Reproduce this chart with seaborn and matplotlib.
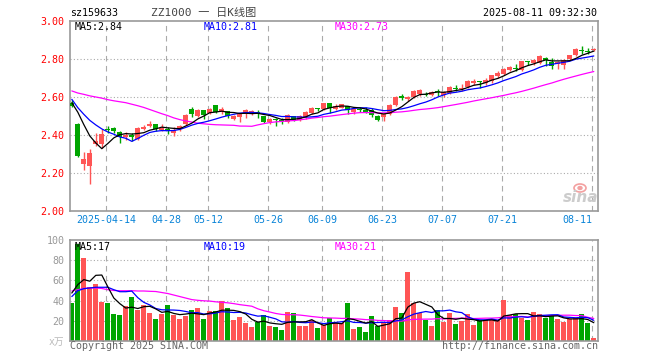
import numpy as np
import pandas as pd
import seaborn as sns
import matplotlib.pyplot as plt
from matplotlib.patches import Ellipse

# daily K data for sz159633, 2025-04-03 .. 2025-08-11
opens = [2.570, 2.460, 2.249, 2.237, 2.351, 2.351, 2.430, 2.435, 2.418, 2.390,
         2.400, 2.377, 2.432, 2.446, 2.460, 2.428, 2.430, 2.412, 2.430, 2.460,
         2.535, 2.500, 2.530, 2.518, 2.556, 2.523, 2.526, 2.486, 2.495, 2.512,
         2.512, 2.520, 2.498, 2.470, 2.480, 2.478, 2.467, 2.500, 2.477, 2.496,
         2.518, 2.544, 2.539, 2.567, 2.539, 2.544, 2.553, 2.523, 2.537, 2.533,
         2.533, 2.498, 2.495, 2.512, 2.558, 2.605, 2.590, 2.602, 2.614, 2.617,
         2.609, 2.628, 2.609, 2.621, 2.648, 2.642, 2.651, 2.674, 2.682, 2.674,
         2.682, 2.709, 2.721, 2.744, 2.753, 2.744, 2.788, 2.779, 2.779, 2.805,
         2.784, 2.774, 2.767, 2.802, 2.823, 2.849, 2.844, 2.849]
highs = [2.582, 2.465, 2.312, 2.325, 2.410, 2.430, 2.450, 2.440, 2.420, 2.415,
         2.410, 2.442, 2.452, 2.474, 2.460, 2.460, 2.442, 2.440, 2.452, 2.510,
         2.550, 2.535, 2.530, 2.540, 2.556, 2.550, 2.526, 2.503, 2.512, 2.535,
         2.530, 2.530, 2.498, 2.490, 2.492, 2.490, 2.510, 2.500, 2.505, 2.526,
         2.550, 2.544, 2.570, 2.570, 2.562, 2.565, 2.553, 2.544, 2.546, 2.546,
         2.540, 2.505, 2.518, 2.562, 2.605, 2.618, 2.605, 2.635, 2.640, 2.626,
         2.630, 2.644, 2.630, 2.656, 2.665, 2.668, 2.690, 2.696, 2.686, 2.700,
         2.718, 2.735, 2.753, 2.761, 2.774, 2.791, 2.791, 2.802, 2.819, 2.809,
         2.805, 2.791, 2.802, 2.823, 2.858, 2.867, 2.858, 2.858]
lows = [2.545, 2.285, 2.214, 2.140, 2.340, 2.330, 2.410, 2.410, 2.360, 2.375,
        2.370, 2.372, 2.425, 2.440, 2.420, 2.420, 2.407, 2.395, 2.420, 2.453,
        2.495, 2.495, 2.482, 2.510, 2.518, 2.512, 2.488, 2.480, 2.470, 2.490,
        2.505, 2.490, 2.463, 2.460, 2.450, 2.460, 2.463, 2.475, 2.474, 2.482,
        2.512, 2.526, 2.533, 2.516, 2.530, 2.540, 2.512, 2.510, 2.523, 2.518,
        2.495, 2.474, 2.474, 2.505, 2.553, 2.582, 2.580, 2.597, 2.607, 2.603,
        2.604, 2.604, 2.598, 2.616, 2.630, 2.630, 2.647, 2.665, 2.647, 2.665,
        2.674, 2.700, 2.714, 2.735, 2.735, 2.735, 2.767, 2.770, 2.774, 2.761,
        2.749, 2.749, 2.749, 2.796, 2.814, 2.826, 2.826, 2.844]
closes = [2.555, 2.289, 2.272, 2.307, 2.368, 2.404, 2.425, 2.420, 2.390, 2.398,
          2.392, 2.439, 2.442, 2.456, 2.432, 2.438, 2.420, 2.428, 2.447, 2.505,
          2.512, 2.530, 2.505, 2.535, 2.523, 2.535, 2.500, 2.498, 2.509, 2.530,
          2.526, 2.508, 2.467, 2.482, 2.477, 2.474, 2.505, 2.477, 2.502, 2.520,
          2.544, 2.539, 2.567, 2.544, 2.553, 2.561, 2.532, 2.537, 2.532, 2.523,
          2.505, 2.481, 2.512, 2.558, 2.602, 2.593, 2.602, 2.632, 2.635, 2.613,
          2.626, 2.625, 2.625, 2.653, 2.642, 2.650, 2.682, 2.682, 2.677, 2.690,
          2.714, 2.726, 2.749, 2.758, 2.747, 2.788, 2.784, 2.795, 2.814, 2.796,
          2.761, 2.784, 2.796, 2.819, 2.854, 2.844, 2.837, 2.854]
# volume in 万
volumes = [37.5, 95.8, 81.8, 53.5, 56.5, 39.0, 37.5, 26.5, 25.5, 34.5,
           43.5, 30.8, 35.5, 27.5, 21.5, 26.5, 35.5, 25.5, 21.5, 24.5,
           30.5, 32.5, 21.5, 29.5, 29.5, 39.5, 32.5, 20.5, 23.5, 17.5,
           13.5, 18.5, 25.5, 14.5, 13.5, 10.5, 28.5, 27.5, 14.5, 14.5,
           20.5, 12.5, 15.5, 22.5, 17.5, 17.5, 37.5, 11.5, 13.5, 8.5,
           24.5, 14.5, 17.5, 20.5, 33.5, 27.5, 68.5, 37.5, 27.5, 20.5,
           14.5, 30.5, 18.5, 27.5, 16.5, 19.5, 26.5, 15.5, 20.5, 20.5,
           21.5, 20.5, 40.5, 25.5, 26.5, 22.5, 20.5, 28.5, 26.5, 22.5,
           25.5, 21.5, 18.5, 21.5, 22.5, 26.5, 17.5, 2.5]

# MA values at the start of the window (they depend on days before it)
ma5_head = [2.570, 2.520, 2.455, 2.395]
ma10_head = [2.588, 2.544, 2.509, 2.477, 2.453, 2.432, 2.416, 2.404, 2.390]
ma30_head = [2.632, 2.621, 2.614, 2.606, 2.600, 2.594, 2.586, 2.580, 2.575, 2.570,
             2.562, 2.554, 2.545, 2.534, 2.523, 2.512, 2.502, 2.490, 2.481, 2.474,
             2.468, 2.462, 2.459, 2.456, 2.454, 2.453, 2.452, 2.451, 2.447]
vma5_head = [47.5, 55.8, 60.8, 59.2]
vma10_head = [44.0, 49.8, 51.8, 52.5, 53.2, 53.2, 53.2, 50.8, 48.8]
vma30_head = [49.5, 50.8, 52.0, 52.5, 52.5, 52.0, 50.8, 50.0, 49.8, 49.8,
              49.8, 49.5, 49.5, 49.2, 49.0, 48.0, 47.0, 45.5, 44.0, 42.5,
              41.0, 40.3, 39.8, 39.5, 38.8, 38.3, 37.8, 37.0, 36.0]

date_ticks = [6, 16, 23, 33, 42, 52, 62, 72, 87]
date_labels = ['2025-04-14', '04-28', '05-12', '05-26', '06-09', '06-23', '07-07', '07-21', '08-11']


def moving(vals, n, head):
    s = pd.Series(vals).rolling(n).mean()
    s.iloc[:len(head)] = head
    return s.values


sns.set_style('white')
plt.rcParams['font.family'] = ['DejaVu Sans Mono', 'Noto Sans CJK SC']

RED = '#ff5555'
GREEN = '#00a500'
GRID = '#aaaaaa'
W, H = 660, 360


def px(x, y):
    return x / W, 1 - y / H


idx = np.arange(len(closes))
o = np.array(opens); c = np.array(closes)
hi = np.array(highs); lo = np.array(lows)
up = c >= o
cols = np.where(up, RED, GREEN)

fig = plt.figure(figsize=(6.6, 3.6), dpi=100)
ax = fig.add_axes([70 / W, 1 - 211 / H, 528 / W, 190 / H])
axv = fig.add_axes([70 / W, 1 - 341 / H, 528 / W, 101 / H])

xl = (-0.3, 87.7)

# price panel
for y in [2.2, 2.4, 2.6, 2.8]:
    ax.axhline(y, color=GRID, lw=0.8, ls=(0, (1, 2)), zorder=0)
for t in date_ticks:
    ax.axvline(t - 0.25, color=GRID, lw=0.8, ls=(0, (5, 4)), zorder=0)
    axv.axvline(t - 0.25, color=GRID, lw=0.8, ls=(0, (5, 4)), zorder=0)

ax.vlines(idx, lo, hi, colors=cols, lw=1.0, zorder=2)
body = np.maximum(np.abs(c - o), 0.005)
ax.bar(idx, body, bottom=np.minimum(o, c), width=0.82, color=cols, edgecolor='none', linewidth=0, zorder=3)

sns.lineplot(x=idx, y=moving(closes, 30, ma30_head), ax=ax, color='#ff00ff', lw=0.9, legend=False, zorder=4)
sns.lineplot(x=idx, y=moving(closes, 10, ma10_head), ax=ax, color='#0000ff', lw=0.9, legend=False, zorder=4)
sns.lineplot(x=idx, y=moving(closes, 5, ma5_head), ax=ax, color='black', lw=0.9, legend=False, zorder=4)

ax.set_xlim(*xl)
ax.set_ylim(2.0, 3.0)
ax.set_yticks(np.arange(2.0, 3.01, 0.2))
ax.set_yticklabels(['%.2f' % v for v in np.arange(2.0, 3.01, 0.2)], color='#ff0000', fontsize=7.2)
ax.set_xticks([t - 0.25 for t in date_ticks])
ax.set_xticklabels(date_labels, color='#0a84d8', fontsize=7.2)
ax.get_xticklabels()[-1].set_horizontalalignment('right')
ax.tick_params(length=0, pad=3)
ax.tick_params(axis='y', pad=4)

# volume panel
for y in [20, 40, 60, 80]:
    axv.axhline(y, color=GRID, lw=0.8, ls=(0, (1, 2)), zorder=0)
axv.bar(idx, volumes, width=0.82, color=cols, edgecolor='none', linewidth=0, zorder=2)
sns.lineplot(x=idx, y=moving(volumes, 30, vma30_head), ax=axv, color='#ff00ff', lw=0.9, legend=False, zorder=4)
sns.lineplot(x=idx, y=moving(volumes, 10, vma10_head), ax=axv, color='#0000ff', lw=0.9, legend=False, zorder=4)
sns.lineplot(x=idx, y=moving(volumes, 5, vma5_head), ax=axv, color='black', lw=0.9, legend=False, zorder=4)
axv.set_xlim(*xl)
axv.set_ylim(0, 100)
axv.set_yticks([20, 40, 60, 80, 100])
axv.set_yticklabels(['20', '40', '60', '80', '100'], color='#999999', fontsize=7.2)
axv.set_xticks([])
axv.tick_params(length=0, pad=4)

for a in (ax, axv):
    a.set_xlabel('')
    a.set_ylabel('')
    for s in a.spines.values():
        s.set_color('#999999')
        s.set_linewidth(1.2)

# texts
fig.text(*px(70, 13), 'sz159633', fontsize=7.2, va='center', ha='left', color='black')
fig.text(*px(151, 13), 'ZZ1000 一 日K线图', fontsize=8, va='center', ha='left', color='#444444')
fig.text(*px(597, 13), '2025-08-11 09:32:30', fontsize=7.2, va='center', ha='right', color='black')

fig.text(*px(75, 27), 'MA5:2.84', fontsize=7.2, va='center', color='black')
fig.text(*px(204, 27), 'MA10:2.81', fontsize=7.2, va='center', color='#0000ff')
fig.text(*px(335, 27), 'MA30:2.73', fontsize=7.2, va='center', color='#ff00ff')
fig.text(*px(75, 247), 'MA5:17', fontsize=7.2, va='center', color='black')
fig.text(*px(204, 247), 'MA10:19', fontsize=7.2, va='center', color='#0000ff')
fig.text(*px(335, 247), 'MA30:21', fontsize=7.2, va='center', color='#ff00ff')

fig.text(*px(49, 342), 'x万', fontsize=7, va='center', color='#bbbbbb')
fig.text(*px(70, 346), 'Copyright 2025 SINA.COM', fontsize=7.2, va='center', color='#666666')
fig.text(*px(598, 346), 'http://finance.sina.com.cn', fontsize=7.2, va='center', ha='right', color='#666666')

# sina watermark
fig.text(*px(581, 197), 'sina', fontsize=11, fontweight='bold', style='italic', family='DejaVu Sans',
         va='center', ha='center', color='#cccccc')
fig.patches.append(Ellipse(px(580, 188), 12 / W, 8 / H, transform=fig.transFigure,
                           fill=False, edgecolor='#f3a0a0', lw=1.2))
fig.patches.append(Ellipse(px(580, 188), 4 / W, 3 / H, transform=fig.transFigure,
                           color='#f3a0a0'))

fig.savefig('out.png', dpi=100)
